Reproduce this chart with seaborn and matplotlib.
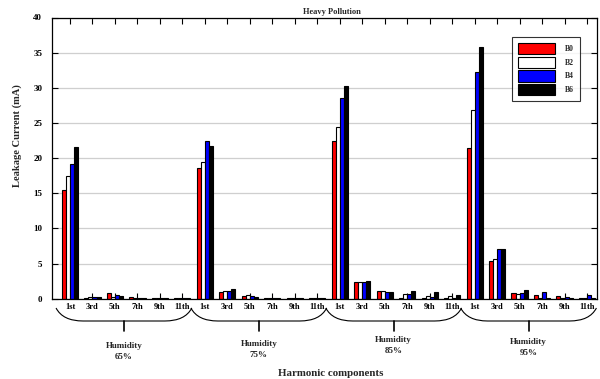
import numpy as np
import pandas as pd
import seaborn as sns
import matplotlib
matplotlib.use("Agg")
import matplotlib.pyplot as plt
from matplotlib.path import Path
from matplotlib.patches import PathPatch
import matplotlib.transforms as mtransforms

# ---------------- data ----------------
harmonics = ["1st", "3rd", "5th", "7th", "9th", "11th"]
humidity = ["65%", "75%", "85%", "95%"]
series = ["B0", "B2", "B4", "B6"]

# values per humidity group, order of harmonics as above
B0 = [15.4, 0.10, 0.76, 0.19, 0.05, 0.05,
      18.6, 0.95, 0.33, 0.05, 0.05, 0.05,
      22.5, 2.40, 1.10, 0.05, 0.14, 0.10,
      21.5, 5.40, 0.83, 0.50, 0.35, 0.05]
B2 = [17.4, 0.20, 0.28, 0.10, 0.05, 0.05,
      19.4, 1.13, 0.57, 0.05, 0.05, 0.05,
      24.4, 2.45, 1.10, 0.70, 0.43, 0.38,
      26.9, 5.70, 0.73, 0.17, 0.10, 0.05]
B4 = [19.1, 0.30, 0.52, 0.14, 0.05, 0.05,
      22.5, 1.13, 0.43, 0.05, 0.05, 0.05,
      28.6, 2.45, 0.90, 0.75, 0.24, 0.10,
      32.3, 7.10, 0.83, 0.97, 0.26, 0.55]
B6 = [21.6, 0.30, 0.33, 0.10, 0.05, 0.05,
      21.7, 1.42, 0.29, 0.05, 0.05, 0.05,
      30.2, 2.55, 0.90, 1.13, 0.95, 0.60,
      35.8, 7.10, 1.20, 0.10, 0.05, 0.10]

colors = ["#ff0000", "#ffffff", "#0000ff", "#000000"]

keys = [f"{h}-{k}" for h in humidity for k in harmonics]
tick_labels = [k for h in humidity for k in harmonics]

rows = []
for s, vals in zip(series, [B0, B2, B4, B6]):
    for key, v in zip(keys, vals):
        rows.append({"pos": key, "val": v, "series": s})
df = pd.DataFrame(rows)

# ---------------- style ----------------
sns.set_style("white")
plt.rcParams["font.family"] = ["Liberation Serif", "DejaVu Serif"]
plt.rcParams["font.weight"] = "bold"

fig = plt.figure(figsize=(6, 3.79), dpi=100)
ax = fig.add_axes([52 / 600, 1 - 298.8 / 379, 545 / 600, 281.3 / 379])

sns.barplot(data=df, x="pos", y="val", hue="series", order=keys,
            hue_order=series, palette=colors, width=0.72,
            edgecolor="black", linewidth=0.8, ax=ax, legend=True,
            saturation=1)

ax.set_ylim(0, 40)
ax.set_xlim(-0.8, len(keys) - 0.555)
ax.set_yticks(np.arange(0, 41, 5))
ax.yaxis.grid(True, color="#cfcfcf", linewidth=0.9)
ax.set_axisbelow(True)
ax.set_xticks(range(len(keys)))
ax.set_xticklabels(tick_labels, fontsize=6, fontweight="bold")
for t in ax.get_yticklabels():
    t.set_fontsize(6.5)
    t.set_fontweight("bold")
ax.tick_params(direction="in", top=True, right=True, bottom=True, left=True,
               length=4, width=0.8, colors="black", pad=3)
ax.tick_params(axis="y", pad=7)
ax.set_xlabel("")
ax.set_ylabel("")
for sp in ax.spines.values():
    sp.set_color("black")
    sp.set_linewidth(0.9)

# legend
leg = ax.legend(loc="upper right", bbox_to_anchor=(0.969, 0.931),
                fontsize=5.5, frameon=True, fancybox=False,
                handlelength=4.9, handleheight=1.9, labelspacing=0.3,
                handletextpad=1.3, borderpad=0.8, borderaxespad=0)
leg.get_frame().set_edgecolor("black")
leg.get_frame().set_linewidth(0.8)
for t in leg.get_texts():
    t.set_fontweight("bold")

# titles and labels
fig.text(332 / 600, 1 - 11.5 / 379, "Heavy Pollution", ha="center",
         va="center", fontsize=6, fontweight="bold")
fig.text(17 / 600, 1 - 136 / 379, "Leakage Current (mA)", rotation=90,
         ha="center", va="center", fontsize=7.6, fontweight="bold")
fig.text(331 / 600, 1 - 374 / 379, "Harmonic components", ha="center",
         va="center", fontsize=7.8, fontweight="bold")

# braces under groups
trans = mtransforms.blended_transform_factory(ax.transData, fig.transFigure)
ytop = 1 - 308 / 379
ybot = 1 - 321 / 379
yend = 1 - 331 / 379
label_y = [346, 344, 340, 342]
for gi, h in enumerate(humidity):
    x0 = gi * 6 - 0.62
    x1 = gi * 6 + 5.42
    xc = (x0 + x1) / 2
    p = Path([(x0, ytop), (x0 + 0.3, ybot), (x0 + 1.2, ybot),
              (x1 - 1.2, ybot), (x1 - 0.3, ybot), (x1, ytop)],
             [Path.MOVETO, Path.CURVE3, Path.CURVE3,
              Path.LINETO, Path.CURVE3, Path.CURVE3])
    patch = PathPatch(p, transform=trans, fill=False, edgecolor="black",
                      linewidth=0.8, clip_on=False)
    fig.add_artist(patch)
    fig.add_artist(plt.Line2D([xc, xc], [ybot, yend], transform=trans,
                              color="black", linewidth=1.2, clip_on=False))
    ly = 1 - label_y[gi] / 379
    fig.text(xc, ly, "Humidity", transform=trans, ha="center", va="center",
             fontsize=6.5, fontweight="bold")
    fig.text(xc, ly - 11 / 379, h, transform=trans, ha="center", va="center",
             fontsize=6.5, fontweight="bold")

fig.savefig("out.png", dpi=100)
